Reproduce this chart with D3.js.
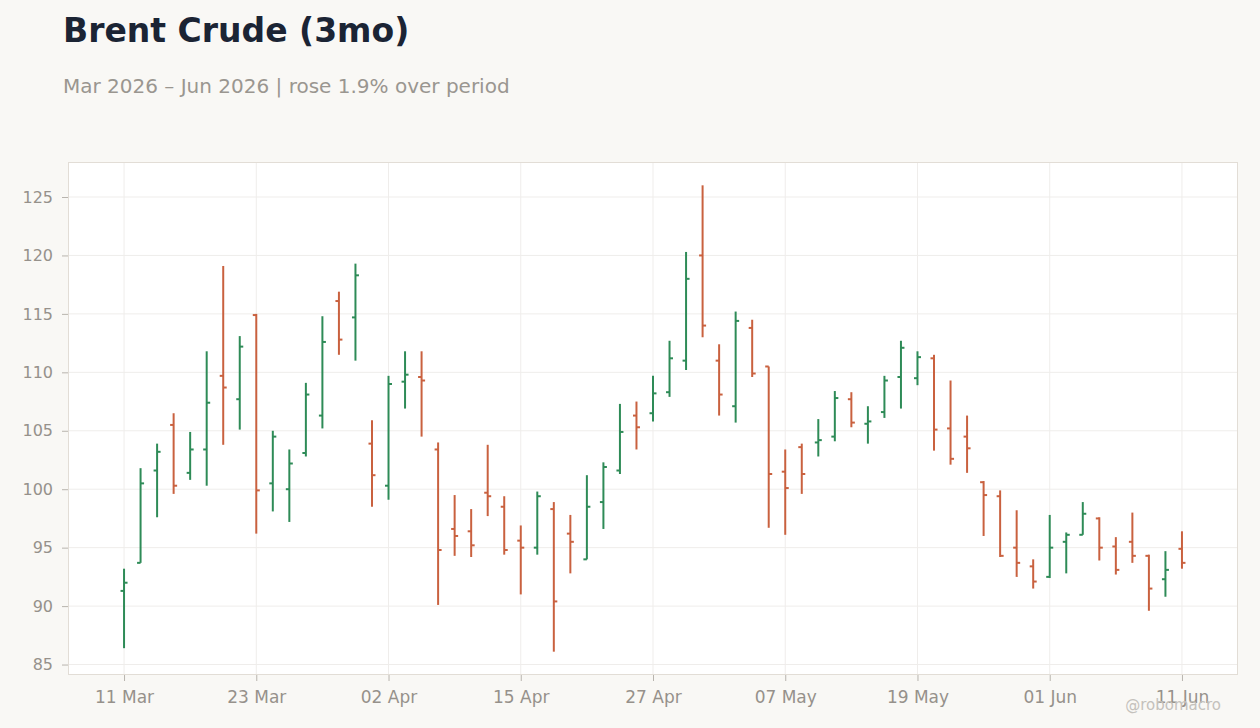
<!DOCTYPE html>
<html>
<head>
<meta charset="utf-8">
<script src="https://cdn.jsdelivr.net/npm/d3@7"></script>
<style>
    html, body { margin: 0; padding: 0; background: #f9f8f5; }
    svg { display: block; font-family: "DejaVu Sans", sans-serif; }
</style>
</head>
<body>
<svg id="chart" width="1260" height="728"></svg>
<script>
// Trading days (US), 11 Mar - 11 Jun 2026
const dates = [
    '2026-03-11','2026-03-12','2026-03-13','2026-03-16','2026-03-17','2026-03-18','2026-03-19','2026-03-20',
    '2026-03-23','2026-03-24','2026-03-25','2026-03-26','2026-03-27','2026-03-30','2026-03-31','2026-04-01',
    '2026-04-02','2026-04-06','2026-04-07','2026-04-08','2026-04-09','2026-04-10','2026-04-13','2026-04-14',
    '2026-04-15','2026-04-16','2026-04-17','2026-04-20','2026-04-21','2026-04-22','2026-04-23','2026-04-24',
    '2026-04-27','2026-04-28','2026-04-29','2026-04-30','2026-05-01','2026-05-04','2026-05-05','2026-05-06',
    '2026-05-07','2026-05-08','2026-05-11','2026-05-12','2026-05-13','2026-05-14','2026-05-15','2026-05-18',
    '2026-05-19','2026-05-20','2026-05-21','2026-05-22','2026-05-26','2026-05-27','2026-05-28','2026-05-29',
    '2026-06-01','2026-06-02','2026-06-03','2026-06-04','2026-06-05','2026-06-08','2026-06-09','2026-06-10',
    '2026-06-11'
];

const opens = [
    91.3, 93.7, 101.6, 105.5, 101.4, 103.4, 109.7, 107.7,
    114.9, 100.5, 100.0, 103.1, 106.3, 116.1, 114.7, 103.9,
    100.3, 109.2, 109.6, 103.4, 96.6, 96.4, 99.7, 98.5,
    95.6, 95.0, 98.3, 96.2, 94.0, 98.9, 101.6, 106.3,
    106.5, 108.3, 111.0, 120.0, 111.0, 107.1, 113.8, 110.5,
    101.5, 103.6, 104.0, 104.5, 107.7, 105.6, 106.6, 109.6,
    109.5, 111.2, 105.2, 104.5, 100.6, 99.4, 95.0, 93.4,
    92.5, 95.5, 96.1, 97.5, 95.1, 95.5, 94.3, 92.3,
    94.9
];
const highs = [
    93.2, 101.8, 103.9, 106.5, 104.9, 111.8, 119.1, 113.1,
    115.0, 105.0, 103.4, 109.1, 114.8, 116.9, 119.3, 105.9,
    109.7, 111.8, 111.8, 104.0, 99.5, 98.3, 103.8, 99.4,
    96.9, 99.8, 98.9, 97.8, 101.2, 102.3, 107.3, 107.5,
    109.7, 112.7, 120.3, 126.0, 112.4, 115.2, 114.5, 110.5,
    103.4, 103.9, 106.0, 108.4, 108.3, 107.1, 109.7, 112.7,
    111.8, 111.5, 109.3, 106.3, 100.7, 99.9, 98.2, 94.0,
    97.8, 96.3, 98.9, 97.6, 95.9, 98.0, 94.4, 94.7,
    96.4
];
const lows = [
    86.4, 93.7, 97.6, 99.6, 100.8, 100.3, 103.8, 105.1,
    96.2, 98.1, 97.2, 102.8, 105.2, 111.5, 111.0, 98.5,
    99.1, 106.9, 104.5, 90.1, 94.3, 94.2, 97.7, 94.4,
    91.0, 94.4, 86.1, 92.8, 94.0, 96.6, 101.3, 103.4,
    105.8, 107.9, 110.2, 113.0, 106.3, 105.7, 109.6, 96.7,
    96.1, 99.6, 102.8, 104.1, 105.3, 103.9, 106.1, 106.9,
    108.9, 103.3, 102.1, 101.4, 96.0, 94.2, 92.5, 91.5,
    92.4, 92.8, 96.1, 93.9, 92.7, 93.7, 89.6, 90.8,
    93.2
];
const closes = [
    92.0, 100.5, 103.2, 100.3, 103.4, 107.4, 108.7, 112.2,
    99.9, 104.5, 102.2, 108.1, 112.6, 112.8, 118.3, 101.2,
    109.0, 109.8, 109.3, 94.8, 96.0, 95.2, 99.4, 94.8,
    95.0, 99.4, 90.4, 95.5, 98.5, 101.9, 104.9, 105.3,
    108.2, 111.2, 118.0, 114.0, 108.1, 114.4, 109.9, 101.3,
    100.1, 101.3, 104.2, 107.8, 105.7, 105.8, 109.3, 112.1,
    111.3, 105.1, 102.6, 103.5, 99.5, 94.3, 93.7, 92.1,
    95.0, 96.1, 97.9, 95.0, 93.1, 94.3, 91.5, 93.1,
    93.7
];

const yTicks = [85, 90, 95, 100, 105, 110, 115, 120, 125];
const xTickEvery = 8;

const upColor = '#2e8b57';
const downColor = '#c9613f';

const bars = dates.map((d, i) => ({
    date: d, open: opens[i], high: highs[i], low: lows[i], close: closes[i]
}));

const svg = d3.select('#chart');
const plot = { left: 68, top: 162, right: 1238, bottom: 675 };

// Title and subtitle
svg.append('text')
    .attr('x', 63).attr('y', 42)
    .attr('font-size', 33).attr('font-weight', 'bold')
    .attr('fill', '#1b2434')
    .text('Brent Crude (3mo)');

svg.append('text')
    .attr('x', 63).attr('y', 93)
    .attr('font-size', 20)
    .attr('fill', '#9a9690')
    .text('Mar 2026 – Jun 2026 | rose 1.9% over period');

// Scales
const x = d3.scalePoint()
    .domain(dates)
    .range([plot.left, plot.right])
    .padding(3.39);

const minLow = d3.min(lows), maxHigh = d3.max(highs);
const pad = (maxHigh - minLow) * 0.05;
const y = d3.scaleLinear()
    .domain([minLow - pad, maxHigh + pad])
    .range([plot.bottom, plot.top]);

// Plot background
svg.append('rect')
    .attr('x', plot.left).attr('y', plot.top)
    .attr('width', plot.right - plot.left)
    .attr('height', plot.bottom - plot.top)
    .attr('fill', '#ffffff');

const xTickValues = dates.filter((d, i) => i % xTickEvery === 0);
const parse = d3.timeParse('%Y-%m-%d');
const fmt = d3.timeFormat('%d %b');

// Grid
const grid = svg.append('g');
grid.selectAll('.hgrid')
    .data(yTicks)
    .enter()
    .append('line')
    .attr('x1', plot.left).attr('x2', plot.right)
    .attr('y1', d => y(d)).attr('y2', d => y(d))
    .attr('stroke', '#efedeb').attr('stroke-width', 1);
grid.selectAll('.vgrid')
    .data(xTickValues)
    .enter()
    .append('line')
    .attr('x1', d => x(d)).attr('x2', d => x(d))
    .attr('y1', plot.top).attr('y2', plot.bottom)
    .attr('stroke', '#efedeb').attr('stroke-width', 1);

// Axes
const yAxis = svg.append('g')
    .attr('transform', `translate(${plot.left},0)`)
    .call(d3.axisLeft(y).tickValues(yTicks).tickSize(6).tickPadding(9));
const xAxis = svg.append('g')
    .attr('transform', `translate(0,${plot.bottom})`)
    .call(d3.axisBottom(x).tickValues(xTickValues).tickSize(6).tickPadding(10)
        .tickFormat(d => fmt(parse(d))));

[yAxis, xAxis].forEach(ax => {
    ax.select('.domain').remove();
    ax.selectAll('line').attr('stroke', '#b8b4ae');
    ax.selectAll('text')
        .attr('fill', '#96918b')
        .attr('font-family', '"DejaVu Sans", sans-serif');
});
yAxis.selectAll('text').attr('font-size', 16);
xAxis.selectAll('text').attr('font-size', 17);

// Plot border
svg.append('rect')
    .attr('x', plot.left + 0.5).attr('y', plot.top + 0.5)
    .attr('width', plot.right - plot.left - 1)
    .attr('height', plot.bottom - plot.top - 1)
    .attr('fill', 'none')
    .attr('stroke', '#e2ddd6');

// OHLC bars
const tickLen = 3.5;
const barG = svg.append('g')
    .selectAll('g')
    .data(bars)
    .enter()
    .append('g')
    .attr('stroke', d => d.close >= d.open ? upColor : downColor)
    .attr('stroke-width', 2);

barG.append('line')
    .attr('x1', d => x(d.date)).attr('x2', d => x(d.date))
    .attr('y1', d => y(d.high)).attr('y2', d => y(d.low));
barG.append('line')
    .attr('x1', d => x(d.date) - tickLen).attr('x2', d => x(d.date))
    .attr('y1', d => y(d.open)).attr('y2', d => y(d.open));
barG.append('line')
    .attr('x1', d => x(d.date)).attr('x2', d => x(d.date) + tickLen)
    .attr('y1', d => y(d.close)).attr('y2', d => y(d.close));

// Watermark
svg.append('text')
    .attr('x', 1221).attr('y', 710)
    .attr('text-anchor', 'end')
    .attr('font-size', 15)
    .attr('fill', '#c4c1bc')
    .text('@robomacro');
</script>
</body>
</html>
